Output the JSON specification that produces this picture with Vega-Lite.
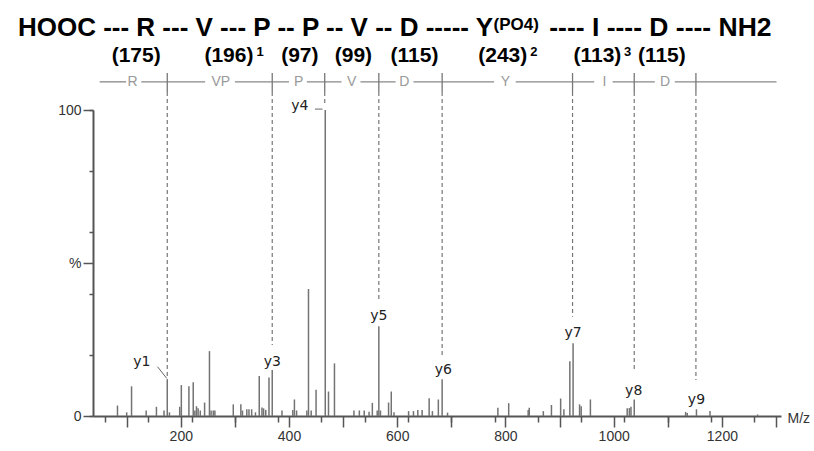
{
  "$schema": "https://vega.github.io/schema/vega-lite/v6.json",
  "width": 688,
  "height": 306,
  "autosize": "none",
  "padding": {"left": 93, "top": 110, "right": 33, "bottom": 35},
  "background": "white",
  "config": {"view": {"stroke": null}, "axis": {"grid": false}},
  "datasets": {
    "peaks": [
      {"mz": 83, "pct": 3.4}, {"mz": 100, "pct": 1.2}, {"mz": 109, "pct": 9.7}, {"mz": 136, "pct": 1.8},
      {"mz": 155, "pct": 3.0}, {"mz": 169, "pct": 1.8}, {"mz": 175, "pct": 11.8}, {"mz": 179, "pct": 1.2},
      {"mz": 198, "pct": 3.0}, {"mz": 201, "pct": 10.1}, {"mz": 215, "pct": 9.7}, {"mz": 223, "pct": 11.0},
      {"mz": 226, "pct": 1.8}, {"mz": 229, "pct": 3.2}, {"mz": 232, "pct": 2.5}, {"mz": 236, "pct": 1.8},
      {"mz": 244, "pct": 4.4}, {"mz": 253, "pct": 21.2}, {"mz": 256, "pct": 1.8}, {"mz": 260, "pct": 1.8},
      {"mz": 263, "pct": 1.8}, {"mz": 297, "pct": 3.8}, {"mz": 311, "pct": 3.8}, {"mz": 314, "pct": 1.8},
      {"mz": 322, "pct": 2.2}, {"mz": 326, "pct": 2.2}, {"mz": 331, "pct": 2.2}, {"mz": 338, "pct": 1.2},
      {"mz": 345, "pct": 13.1}, {"mz": 350, "pct": 2.8}, {"mz": 353, "pct": 2.5}, {"mz": 357, "pct": 2.0},
      {"mz": 363, "pct": 12.6}, {"mz": 369, "pct": 15.0}, {"mz": 387, "pct": 1.8}, {"mz": 407, "pct": 2.0},
      {"mz": 410, "pct": 5.4}, {"mz": 414, "pct": 1.8}, {"mz": 433, "pct": 1.8}, {"mz": 436, "pct": 41.5},
      {"mz": 441, "pct": 1.8}, {"mz": 450, "pct": 8.6}, {"mz": 467, "pct": 100}, {"mz": 473, "pct": 8.0},
      {"mz": 484, "pct": 17.2}, {"mz": 520, "pct": 1.8}, {"mz": 530, "pct": 1.8}, {"mz": 539, "pct": 1.8},
      {"mz": 548, "pct": 1.4}, {"mz": 554, "pct": 4.3}, {"mz": 563, "pct": 1.8}, {"mz": 566, "pct": 29.3},
      {"mz": 569, "pct": 1.8}, {"mz": 584, "pct": 4.4}, {"mz": 589, "pct": 8.0}, {"mz": 594, "pct": 1.2},
      {"mz": 621, "pct": 1.6}, {"mz": 630, "pct": 1.6}, {"mz": 638, "pct": 2.0}, {"mz": 646, "pct": 2.0},
      {"mz": 659, "pct": 5.8}, {"mz": 665, "pct": 1.6}, {"mz": 676, "pct": 5.4}, {"mz": 683, "pct": 12.0},
      {"mz": 693, "pct": 1.1}, {"mz": 786, "pct": 2.7}, {"mz": 806, "pct": 4.2}, {"mz": 842, "pct": 2.0},
      {"mz": 844, "pct": 2.7}, {"mz": 870, "pct": 1.6}, {"mz": 885, "pct": 3.6}, {"mz": 902, "pct": 5.7},
      {"mz": 908, "pct": 2.2}, {"mz": 919, "pct": 17.9}, {"mz": 925, "pct": 23.8}, {"mz": 937, "pct": 3.8},
      {"mz": 940, "pct": 3.2}, {"mz": 957, "pct": 5.4}, {"mz": 1025, "pct": 2.5}, {"mz": 1029, "pct": 2.6},
      {"mz": 1032, "pct": 3.0}, {"mz": 1038, "pct": 5.4}, {"mz": 1133, "pct": 1.3}, {"mz": 1136, "pct": 1.0},
      {"mz": 1153, "pct": 2.2}, {"mz": 1178, "pct": 1.6}, {"mz": 1266, "pct": 0.5}
    ],
    "ladder": [
      {"x1": 50, "x2": 99, "pct": 109.2}, {"x1": 127, "x2": 245, "pct": 109.2}, {"x1": 300, "x2": 400, "pct": 109.2},
      {"x1": 433, "x2": 497, "pct": 109.2}, {"x1": 532, "x2": 597, "pct": 109.2}, {"x1": 630, "x2": 779, "pct": 109.2},
      {"x1": 819, "x2": 964, "pct": 109.2}, {"x1": 998, "x2": 1076, "pct": 109.2}, {"x1": 1113, "x2": 1301, "pct": 109.2}
    ],
    "cuts": [
      {"mz": 175, "top": 112.1, "mid": 105.9, "bottom": 11.8}, {"mz": 369, "top": 112.1, "mid": 105.9, "bottom": 23.2},
      {"mz": 466, "top": 112.1, "mid": 105.9, "bottom": 102.3}, {"mz": 566, "top": 112.1, "mid": 105.9, "bottom": 37.9},
      {"mz": 683, "top": 112.1, "mid": 105.9, "bottom": 19.9}, {"mz": 924, "top": 112.1, "mid": 105.9, "bottom": 32.4},
      {"mz": 1038, "top": 112.1, "mid": 105.9, "bottom": 14.5}, {"mz": 1152, "top": 112.1, "mid": 105.9, "bottom": 11.8}
    ],
    "letters": [
      {"mz": 111, "pct": 109.2, "res": "R"}, {"mz": 274, "pct": 109.2, "res": "VP"}, {"mz": 418, "pct": 109.2, "res": "P"},
      {"mz": 516, "pct": 109.2, "res": "V"}, {"mz": 613, "pct": 109.2, "res": "D"}, {"mz": 800, "pct": 109.2, "res": "Y"},
      {"mz": 983, "pct": 109.2, "res": "I"}, {"mz": 1095, "pct": 109.2, "res": "D"}
    ],
    "masses": [
      {"mz": 117.5, "pct": 115.7, "label": "(175)"}, {"mz": 289, "pct": 115.7, "label": "(196)"},
      {"mz": 420, "pct": 115.7, "label": "(97)"}, {"mz": 519, "pct": 115.7, "label": "(99)"},
      {"mz": 632, "pct": 115.7, "label": "(115)"}, {"mz": 795, "pct": 115.7, "label": "(243)"},
      {"mz": 970, "pct": 115.7, "label": "(113)"}, {"mz": 1089, "pct": 115.7, "label": "(115)"}
    ],
    "sups": [
      {"mz": 340, "pct": 117.6, "label": "1"}, {"mz": 846, "pct": 117.6, "label": "2"}, {"mz": 1019, "pct": 117.6, "label": "3"}
    ],
    "titleA": [{"mz": -101, "pct": 124.2, "label": "HOOC --- R --- V --- P -- P -- V -- D ----- Y"}],
    "titleC": [{"mz": 881, "pct": 124.2, "label": "---- I ---- D ---- NH2"}],
    "po4": [{"mz": 778, "pct": 126.2, "label": "(PO4)"}],
    "ions": [
      {"mz": 128, "pct": 17.6, "label": "y1"}, {"mz": 369, "pct": 17.7, "label": "y3"},
      {"mz": 420, "pct": 101.3, "label": "y4"}, {"mz": 566, "pct": 32.7, "label": "y5"},
      {"mz": 685, "pct": 15.0, "label": "y6"}, {"mz": 925, "pct": 27.0, "label": "y7"},
      {"mz": 1037, "pct": 8.3, "label": "y8"}, {"mz": 1153, "pct": 5.2, "label": "y9"}
    ],
    "leaders": [
      {"x1": 157, "x2": 174, "y1": 16.1, "y2": 12.3},
      {"x1": 448, "x2": 462, "y1": 100.3, "y2": 100.3}
    ]
  },
  "layer": [
    {
      "layer": [
        {
          "data": {"name": "peaks"},
          "mark": {"type": "bar", "color": "#737373", "width": 1.5},
          "encoding": {
            "x": {
              "field": "mz", "type": "quantitative",
              "scale": {"domain": [47, 1300], "nice": false, "zero": false},
              "axis": {
                "orient": "bottom",
                "values": [60,80,100,120,140,160,180,200,220,240,260,280,300,320,340,360,380,400,420,440,460,480,500,520,540,560,580,600,620,640,660,680,700,720,740,760,780,800,820,840,860,880,900,920,940,960,980,1000,1020,1040,1060,1080,1100,1120,1140,1160,1180,1200,1220,1240,1260,1280,1300],
                "labels": false, "tickSize": 6, "tickWidth": 1.5, "tickColor": "#555",
                "domainColor": "#555", "domainWidth": 2, "grid": false,
                "title": "M/z", "titleX": 694, "titleY": 2, "titleAlign": "left", "titleBaseline": "middle",
                "titleAngle": 0, "titleFont": "Liberation Sans", "titleFontSize": 14, "titleFontWeight": "normal", "titleColor": "#333"
              }
            },
            "y": {
              "field": "pct", "type": "quantitative",
              "scale": {"domain": [0, 100], "nice": false, "zero": true},
              "axis": {
                "orient": "left",
                "values": [0,10,20,30,40,50,60,70,80,90,100],
                "labels": false, "tickSize": 4, "tickWidth": 1.5, "tickColor": "#555",
                "domainColor": "#555", "domainWidth": 2, "grid": false, "title": null
              }
            }
          }
        },
        {
          "data": {"name": "ladder"},
          "mark": {"type": "rule", "color": "#888", "strokeWidth": 1.3},
          "encoding": {
            "x": {"field": "x1", "type": "quantitative"},
            "x2": {"field": "x2"},
            "y": {"field": "pct", "type": "quantitative"}
          }
        },
        {
          "data": {"name": "cuts"},
          "mark": {"type": "rule", "color": "#777", "strokeWidth": 1.3},
          "encoding": {
            "x": {"field": "mz", "type": "quantitative"},
            "y": {"field": "top", "type": "quantitative"},
            "y2": {"field": "mid"}
          }
        },
        {
          "data": {"name": "cuts"},
          "mark": {"type": "rule", "color": "#777", "strokeWidth": 1.2, "strokeDash": [4, 3]},
          "encoding": {
            "x": {"field": "mz", "type": "quantitative"},
            "y": {"field": "mid", "type": "quantitative"},
            "y2": {"field": "bottom"}
          }
        },
        {
          "data": {"name": "letters"},
          "mark": {"type": "text", "color": "#999", "font": "Liberation Sans", "fontSize": 14, "align": "center", "baseline": "middle"},
          "encoding": {
            "x": {"field": "mz", "type": "quantitative"},
            "y": {"field": "pct", "type": "quantitative"},
            "text": {"field": "res"}
          }
        },
        {
          "data": {"name": "masses"},
          "mark": {"type": "text", "color": "#000", "font": "Liberation Sans", "fontSize": 21, "fontWeight": "bold", "align": "center", "baseline": "alphabetic"},
          "encoding": {
            "x": {"field": "mz", "type": "quantitative"},
            "y": {"field": "pct", "type": "quantitative"},
            "text": {"field": "label"}
          }
        },
        {
          "data": {"name": "sups"},
          "mark": {"type": "text", "color": "#000", "font": "Liberation Sans", "fontSize": 13, "fontWeight": "bold", "align": "left", "baseline": "alphabetic"},
          "encoding": {
            "x": {"field": "mz", "type": "quantitative"},
            "y": {"field": "pct", "type": "quantitative"},
            "text": {"field": "label"}
          }
        },
        {
          "data": {"name": "titleA"},
          "mark": {"type": "text", "color": "#000", "font": "Liberation Sans", "fontSize": 26, "fontWeight": "bold", "align": "left", "baseline": "alphabetic"},
          "encoding": {
            "x": {"field": "mz", "type": "quantitative"},
            "y": {"field": "pct", "type": "quantitative"},
            "text": {"field": "label"}
          }
        },
        {
          "data": {"name": "titleC"},
          "mark": {"type": "text", "color": "#000", "font": "Liberation Sans", "fontSize": 26.5, "fontWeight": "bold", "align": "left", "baseline": "alphabetic"},
          "encoding": {
            "x": {"field": "mz", "type": "quantitative"},
            "y": {"field": "pct", "type": "quantitative"},
            "text": {"field": "label"}
          }
        },
        {
          "data": {"name": "po4"},
          "mark": {"type": "text", "color": "#000", "font": "Liberation Sans", "fontSize": 17, "fontWeight": "bold", "align": "left", "baseline": "alphabetic"},
          "encoding": {
            "x": {"field": "mz", "type": "quantitative"},
            "y": {"field": "pct", "type": "quantitative"},
            "text": {"field": "label"}
          }
        },
        {
          "data": {"name": "ions"},
          "mark": {"type": "text", "color": "#222", "font": "DejaVu Sans", "fontSize": 14, "align": "center", "baseline": "middle"},
          "encoding": {
            "x": {"field": "mz", "type": "quantitative"},
            "y": {"field": "pct", "type": "quantitative"},
            "text": {"field": "label"}
          }
        },
        {
          "data": {"name": "leaders"},
          "mark": {"type": "rule", "color": "#666", "strokeWidth": 1},
          "encoding": {
            "x": {"field": "x1", "type": "quantitative"},
            "x2": {"field": "x2"},
            "y": {"field": "y1", "type": "quantitative"},
            "y2": {"field": "y2"}
          }
        }
      ]
    },
    {
      "data": {"name": "peaks"},
      "mark": {"type": "bar", "color": "#737373", "width": 1.5, "opacity": 0},
      "encoding": {
        "x": {
          "field": "mz", "type": "quantitative",
          "axis": {
            "orient": "bottom",
            "values": [100,200,300,400,500,600,700,800,900,1000,1100,1200,1300],
            "format": "d",
            "tickSize": 11, "tickWidth": 1.5, "tickColor": "#555", "domain": false, "grid": false,
            "labelExpr": "datum.value % 200 === 0 ? datum.label : ''",
            "labelFont": "Liberation Sans", "labelFontSize": 14, "labelColor": "#333", "labelPadding": 2,
            "labelOverlap": false, "labelBound": false, "labelFlush": false,
            "title": null
          }
        },
        "y": {
          "field": "pct", "type": "quantitative",
          "axis": {
            "orient": "left",
            "values": [0, 50, 100],
            "tickSize": 10, "tickWidth": 1.5, "tickColor": "#555", "domain": false, "grid": false,
            "labelExpr": "datum.value === 50 ? '%' : datum.label",
            "labelFont": "Liberation Sans", "labelFontSize": 14, "labelColor": "#333", "labelPadding": 2,
            "labelOverlap": false, "labelBound": false, "labelFlush": false,
            "title": null
          }
        }
      }
    }
  ],
  "resolve": {"axis": {"x": "independent", "y": "independent"}}
}
